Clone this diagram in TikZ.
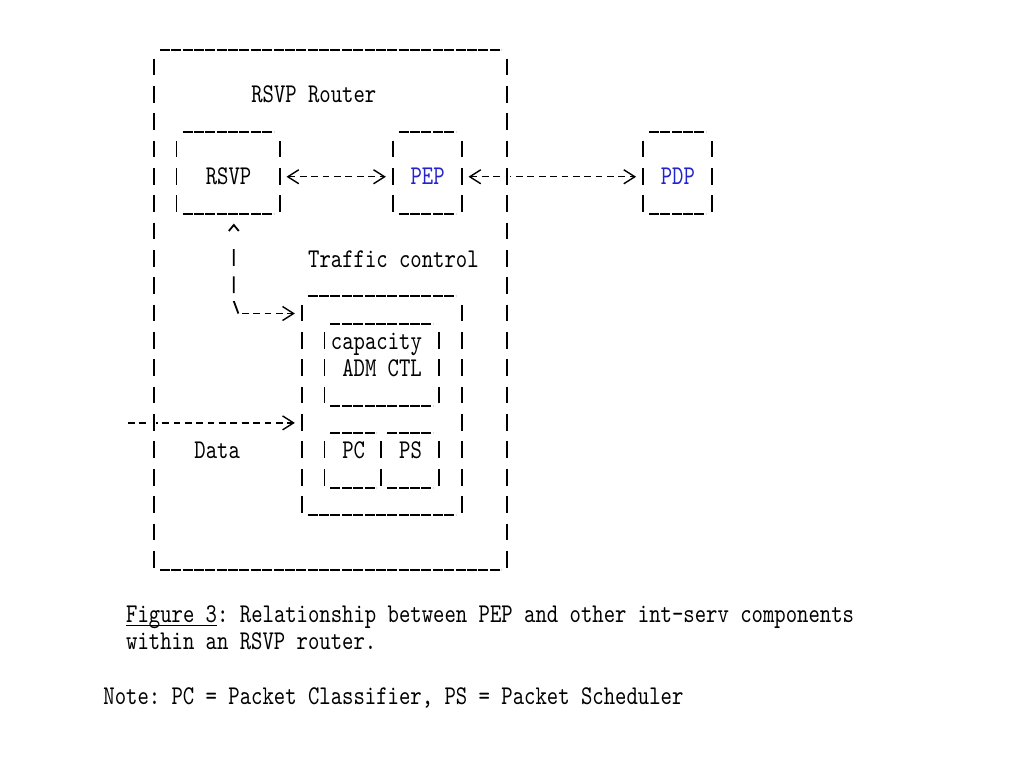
\documentclass[tikz,border=0pt]{standalone}
\usepackage{fontspec}
\usetikzlibrary{arrows.meta,fit}
\newfontfamily\asciifont{lmmono10-regular.otf}[FakeStretch=0.8]
\definecolor{linkblue}{RGB}{35,35,205}
\begin{document}
\begin{tikzpicture}[x=5.6875pt, y=-13.675pt, line join=round,
    font=\asciifont\fontsize{13.54pt}{16pt}\selectfont\frenchspacing,
    >={Straight Barb[length=5.5pt,width=7pt]},
    wall/.style={line width=0.9pt, dash pattern=on 8.35pt off 5.325pt, dash phase=11.015pt,
        preaction={draw=white, line width=2.6pt}},
    under/.style={line width=0.9pt, dash pattern=on 5pt off 0.6875pt},
    link/.style={line width=0.7pt, dash pattern=on 3.4pt off 2.2875pt},
    riser/.style={line width=0.9pt, dash pattern=on 6.6pt off 3.97pt on 8.35pt off 5.325pt on 8.35pt off 20pt},
    frame/.style={inner sep=0pt},
    lbl/.style={anchor=base west, inner sep=0pt}]
    \useasboundingbox (-9.055,-1.4625) rectangle (80.97,26.618);
    % boxes: name / left wall / top row / right wall / bottom row
    \foreach \n/\l/\t/\r/\b in {router/4/0/35/19, rsvp/6/3/15/6, pep/25/3/31/6, pdp/47/3/53/6,
        tc/17/9/31/17, adm/19/10/29/13, pc/19/14/24/16, ps/24/14/29/16}{
        \node[frame, fit={(\l+0.5,\t+0.5) (\r+0.5,\b+0.5)}] (\n) {};
        \draw[under] (\l+1,\t+0.37)--(\r,\t+0.37) (\l+1,\b+0.37)--(\r,\b+0.37);
    }
    %===
    \node[lbl] (router-l) at (13,2.3) {RSVP Router};
    \node[lbl] (rsvp-l) at (9,5.3) {RSVP};
    \node[lbl, text=linkblue] (pep-l) at (27,5.3) {PEP};
    \node[lbl, text=linkblue] (pdp-l) at (49,5.3) {PDP};
    \node[lbl] (tc-l) at (18,8.3) {Traffic control};
    \node[lbl] (adm-l1) at (20,11.3) {capacity};
    \node[lbl] (adm-l2) at (21,12.3) {ADM CTL};
    \node[lbl] (pc-l) at (21,15.3) {PC};
    \node[lbl] (ps-l) at (26,15.3) {PS};
    \node[lbl] (data-l) at (8,15.3) {Data};
    %===
    \draw[link, <->, shorten <=3.4pt, shorten >=3.4pt] (rsvp.east)--(pep.west);
    \draw[link, <->, shorten <=3.4pt, shorten >=3.4pt] (pep.east)--(pdp.west);
    \coordinate (fb) at (11.9,10);
    \coordinate (fbtop) at (11.5,9.55);
    \draw[riser, -{Straight Barb[length=3pt,width=5pt]}, shorten >=2.7pt] (fb)--(fbtop)--(rsvp.south -| fbtop);
    \draw[link, ->, shorten >=3.4pt, dash phase=3.99pt] (fb)--(tc.west |- fb);
    \coordinate (datain) at (2.2,14);
    \draw[link, ->, shorten >=3.4pt] (datain)--(tc.west |- datain);
    % walls last, so the links stop at them
    \foreach \n in {router, rsvp, pep, pdp, tc, adm, pc, ps}
        \draw[wall] (\n.north west)--(\n.south west) (\n.north east)--(\n.south east);
    %===
    \node[lbl] (caption1) at (2,21.3) {\underline{\smash{Figure 3}}: Relationship between PEP and other int-serv components};
    \node[lbl] (caption2) at (2,22.3) {within an RSVP router.};
    \node[lbl] (note) at (0,24.3) {Note: PC = Packet Classifier, PS = Packet Scheduler};
\end{tikzpicture}
\end{document}
